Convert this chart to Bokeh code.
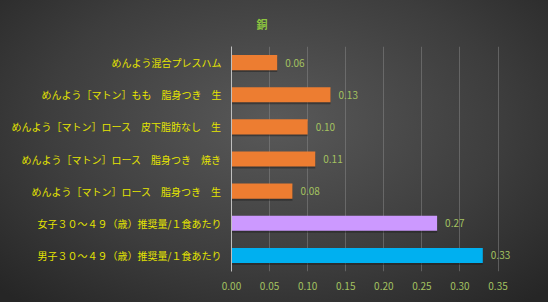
from bokeh.plotting import figure
from bokeh.models import ColumnDataSource, FactorRange, Range1d, FixedTicker, CustomJSTickFormatter, Title
from bokeh.transform import dodge
from bokeh.core.properties import value
from bokeh.embed import file_html
from bokeh.resources import INLINE

categories = [
    "めんよう混合プレスハム",
    "めんよう［マトン］もも　脂身つき　生",
    "めんよう［マトン］ロース　皮下脂肪なし　生",
    "めんよう［マトン］ロース　脂身つき　焼き",
    "めんよう［マトン］ロース　脂身つき　生",
    "女子３０～４９（歳）推奨量/１食あたり",
    "男子３０～４９（歳）推奨量/１食あたり",
]
values = [0.06, 0.13, 0.10, 0.11, 0.08, 0.27, 0.33]
bar_colors = ["#ED7D31", "#ED7D31", "#ED7D31", "#ED7D31", "#ED7D31", "#CC99FF", "#00B0F0"]
value_labels = ["0.06", "0.13", "0.10", "0.11", "0.08", "0.27", "0.33"]
x_ticks = [0.0, 0.05, 0.10, 0.15, 0.20, 0.25, 0.30, 0.35]
title_text = "銅"

FONT = "Noto Sans CJK JP"

src = ColumnDataSource(dict(cat=categories, val=values, color=bar_colors, lab=value_labels))

p = figure(
    width=548, height=302,
    y_range=FactorRange(*reversed(categories), range_padding=0),
    x_range=Range1d(0, 0.39),
    output_backend="svg", toolbar_location=None,
    min_border_left=231, min_border_right=20, min_border_top=46, min_border_bottom=31,
)
p.title = Title(text=title_text, align="left", offset=25, text_color="#8DC63F",
                text_font=FONT, text_font_size="11px", text_font_style="bold",
                standoff=26, vertical_align="top")
p.styles = {"background": "radial-gradient(ellipse 70% 80% at 50% 40%, #595959 0%, #3d3d3d 60%, #262626 100%)"}
p.background_fill_alpha = 0
p.border_fill_alpha = 0
p.outline_line_color = None

# shadow
p.hbar(y=dodge("cat", -0.06, range=p.y_range), right="val", left=0, height=0.47,
       source=src, fill_color="#1a1a1a", fill_alpha=0.45, line_color=None)
p.hbar(y="cat", right="val", left=0, height=0.47, source=src,
       fill_color="color", line_color=None)

p.text(x="val", y="cat", text="lab", source=src, x_offset=8,
       text_baseline="middle", text_align="left", text_font_size="10px",
       text_color="#A4C260", text_font=value(FONT))

p.xaxis.ticker = FixedTicker(ticks=x_ticks)
p.xaxis.formatter = CustomJSTickFormatter(code="return tick.toFixed(2);")
p.xaxis.axis_line_color = None
p.xaxis.major_tick_line_color = None
p.xaxis.minor_tick_line_color = None
p.xaxis.major_label_text_color = "#A4C260"
p.xaxis.major_label_text_font = FONT
p.xaxis.major_label_text_font_size = "10px"
p.xaxis.major_label_standoff = 4

p.yaxis.axis_line_color = "#BFBFBF"
p.yaxis.major_tick_line_color = None
p.yaxis.minor_tick_line_color = None
p.yaxis.major_label_text_color = "#E5E500"
p.yaxis.major_label_text_font = FONT
p.yaxis.major_label_text_font_size = "10px"
p.yaxis.major_label_standoff = 4

p.xgrid.grid_line_color = "#8a8a8a"
p.xgrid.grid_line_alpha = 0.5
p.xgrid.grid_line_width = 1
p.ygrid.grid_line_color = None

open("out.html", "w").write(file_html(p, INLINE))
